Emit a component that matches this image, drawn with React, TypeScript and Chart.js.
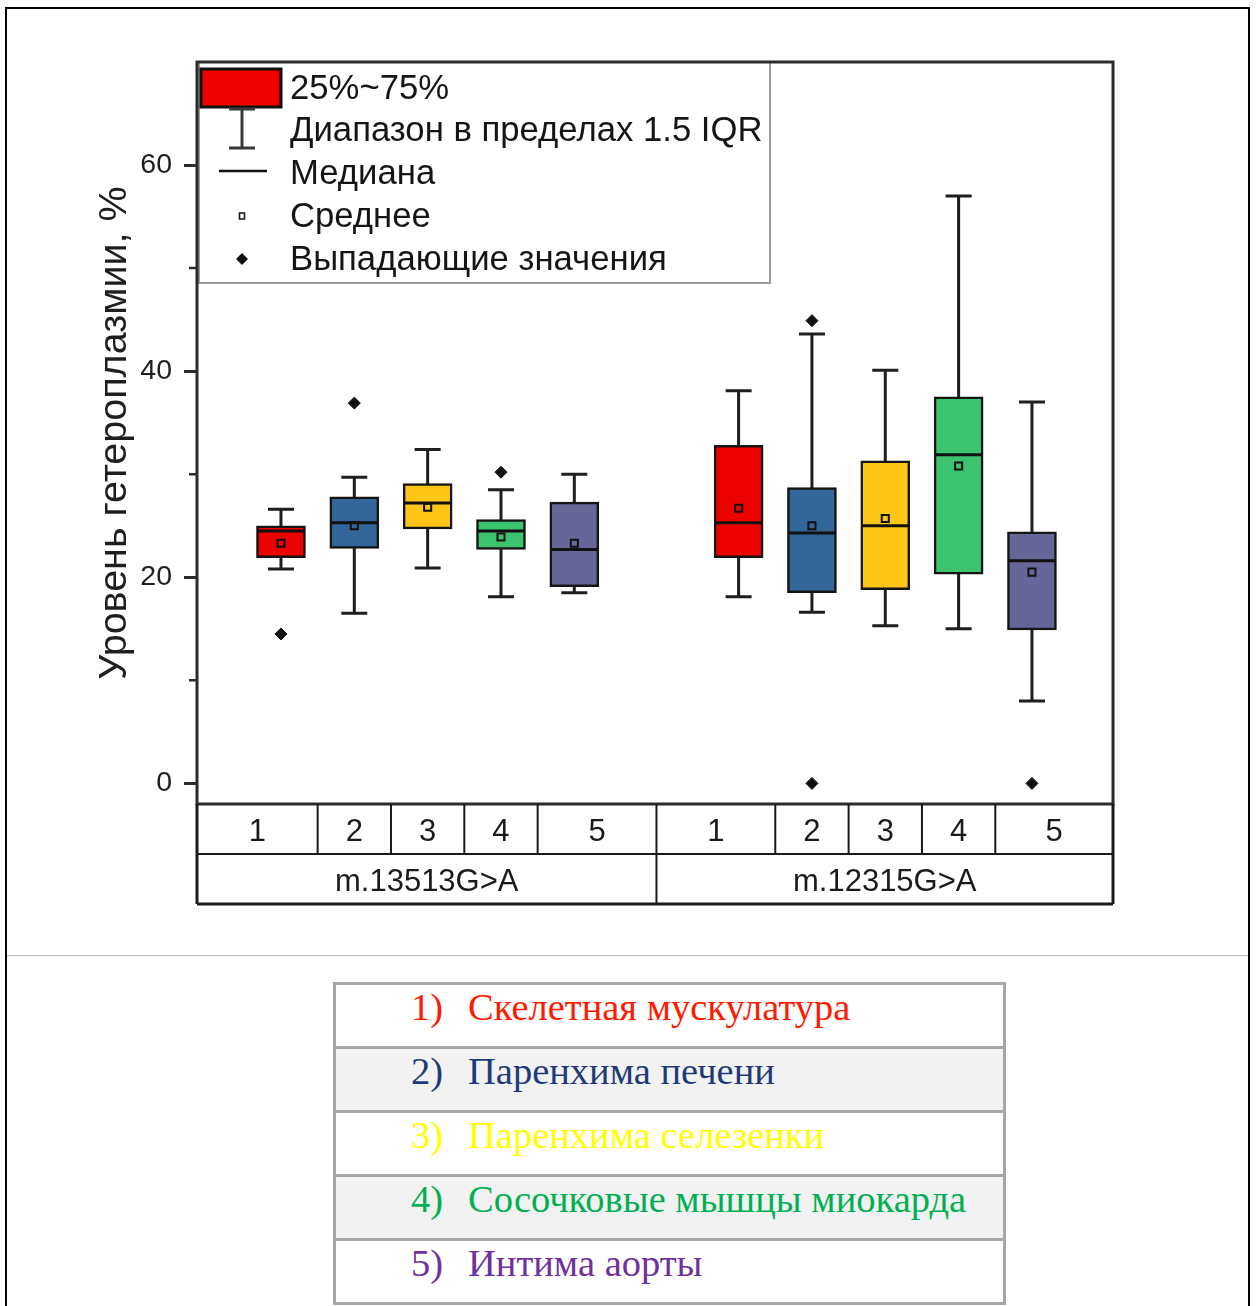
import React, { useEffect, useRef } from 'react';
import { Chart, registerables } from 'chart.js';

Chart.register(...registerables);

// ---------- data ----------
const groupLabels = ['m.13513G>A', 'm.12315G>A'];
const tissueNumbers = ['1', '2', '3', '4', '5'];
const tissueNames = [
  'Скелетная мускулатура',
  'Паренхима печени',
  'Паренхима селезенки',
  'Сосочковые мышцы миокарда',
  'Интима аорты',
];
const yTickValues = [0, 20, 40, 60];
const yMinorTickValues = [10, 30, 50];

// order of boxes: group 1 tissues 1–5, then group 2 tissues 1–5
const whiskerLow = [20.8, 16.5, 20.9, 18.1, 18.5, 18.1, 16.6, 15.3, 15.0, 8.0];
const q1 = [21.9, 22.8, 24.7, 22.7, 19.1, 21.9, 18.5, 18.8, 20.3, 14.9];
const median = [24.5, 25.3, 27.2, 24.5, 22.7, 25.3, 24.3, 25.0, 31.9, 21.6];
const q3 = [25.0, 27.8, 29.1, 25.6, 27.3, 32.8, 28.7, 31.3, 37.5, 24.4];
const whiskerHigh = [26.6, 29.7, 32.4, 28.5, 30.0, 38.1, 43.6, 40.1, 57.0, 37.0];
const mean = [23.3, 25.0, 26.8, 23.9, 23.3, 26.7, 25.0, 25.7, 30.8, 20.5];
const outliers: number[][] = [[14.5], [36.9], [], [30.2], [], [], [44.9, 0], [], [], [0]];

// ---------- styles / layout ----------
const tissueFill = ['#ec0000', '#336699', '#fdc616', '#3cc36f', '#666699'];
const tissueText = ['#ff1a00', '#1f3a78', '#ffff00', '#00b050', '#7030a0'];
const GROUP_STRIDE = 6.24;
const BOX_W = 49;
const CAP_HALF = 13;
const SANS = '"Liberation Sans", Arial, sans-serif';
const SERIF = '"Liberation Serif", "Times New Roman", serif';

const slotX = (i: number) => Math.floor(i / 5) * GROUP_STRIDE + (i % 5) + 1;

const boxPlotPlugin = {
  id: 'boxPlotParts',
  beforeDatasetsDraw(chart: any) {
    const { ctx, scales } = chart;
    const x = scales.x, y = scales.y;
    ctx.save();
    ctx.strokeStyle = '#1e1e1e';
    ctx.lineWidth = 3;
    for (let i = 0; i < q1.length; i++) {
      const px = x.getPixelForValue(slotX(i));
      const lo = y.getPixelForValue(whiskerLow[i]);
      const hi = y.getPixelForValue(whiskerHigh[i]);
      ctx.beginPath();
      ctx.moveTo(px, lo); ctx.lineTo(px, hi);
      ctx.moveTo(px - CAP_HALF, lo); ctx.lineTo(px + CAP_HALF, lo);
      ctx.moveTo(px - CAP_HALF, hi); ctx.lineTo(px + CAP_HALF, hi);
      ctx.stroke();
    }
    ctx.restore();
  },
  afterDatasetDraw(chart: any, args: any) {
    if (args.meta.type !== 'bar') return;
    const t = args.index;
    const { ctx, scales } = chart;
    const x = scales.x, y = scales.y;
    ctx.save();
    ctx.strokeStyle = '#111';
    ctx.lineWidth = 3;
    for (let g = 0; g < groupLabels.length; g++) {
      const i = g * 5 + t;
      const px = x.getPixelForValue(slotX(i));
      const py = y.getPixelForValue(median[i]);
      ctx.beginPath();
      ctx.moveTo(px - BOX_W / 2 + 1, py);
      ctx.lineTo(px + BOX_W / 2 - 1, py);
      ctx.stroke();
    }
    ctx.restore();
  },
  afterDraw(chart: any) {
    const { ctx, chartArea: ca, scales } = chart;
    const x = scales.x, y = scales.y;
    ctx.save();

    // legend
    const lx = ca.left + 2, ly = ca.top;
    ctx.fillStyle = '#fff';
    ctx.fillRect(lx, ly, 571, 221);
    ctx.strokeStyle = '#9c9c9c';
    ctx.lineWidth = 2;
    ctx.strokeRect(lx, ly, 571, 221);

    ctx.fillStyle = tissueFill[0];
    ctx.fillRect(ca.left + 4, ca.top + 7, 80, 38);
    ctx.strokeStyle = '#111';
    ctx.lineWidth = 3;
    ctx.strokeRect(ca.left + 4, ca.top + 7, 80, 38);

    const ix = ca.left + 45;
    ctx.strokeStyle = '#3a3a3a';
    ctx.lineWidth = 3;
    ctx.beginPath();
    ctx.moveTo(ix, ca.top + 47); ctx.lineTo(ix, ca.top + 86);
    ctx.moveTo(ix - 13, ca.top + 47); ctx.lineTo(ix + 13, ca.top + 47);
    ctx.moveTo(ix - 13, ca.top + 86); ctx.lineTo(ix + 13, ca.top + 86);
    ctx.stroke();

    ctx.strokeStyle = '#111';
    ctx.lineWidth = 2.5;
    ctx.beginPath();
    ctx.moveTo(ca.left + 22, ca.top + 109); ctx.lineTo(ca.left + 70, ca.top + 109);
    ctx.stroke();

    ctx.lineWidth = 1.5;
    ctx.strokeRect(ix - 2.5, ca.top + 151, 5, 6);

    ctx.fillStyle = '#111';
    ctx.beginPath();
    ctx.moveTo(ix, ca.top + 191); ctx.lineTo(ix + 6, ca.top + 197);
    ctx.lineTo(ix, ca.top + 203); ctx.lineTo(ix - 6, ca.top + 197);
    ctx.closePath(); ctx.fill();

    const legendTexts = ['25%~75%', 'Диапазон в пределах 1.5 IQR', 'Медиана', 'Среднее', 'Выпадающие значения'];
    const legendBase = [37, 79, 122, 165, 208];
    ctx.font = `34.7px ${SANS}`;
    ctx.fillStyle = '#151515';
    ctx.textAlign = 'left';
    ctx.textBaseline = 'alphabetic';
    legendTexts.forEach((s, k) => ctx.fillText(s, ca.left + 93, ca.top + legendBase[k]));

    // plot frame
    ctx.strokeStyle = '#2b2b2b';
    ctx.lineWidth = 3;
    ctx.strokeRect(ca.left, ca.top, ca.right - ca.left, ca.bottom - ca.top);

    // minor ticks
    ctx.lineWidth = 2.5;
    ctx.beginPath();
    yMinorTickValues.forEach((v) => {
      const py = y.getPixelForValue(v);
      ctx.moveTo(ca.left - 8, py); ctx.lineTo(ca.left, py);
    });
    ctx.stroke();

    // category table under the axis
    const r1 = ca.bottom + 50, r2 = ca.bottom + 100;
    ctx.strokeStyle = '#1a1a1a';
    ctx.lineWidth = 3;
    ctx.beginPath();
    ctx.moveTo(ca.left, ca.bottom); ctx.lineTo(ca.left, r2);
    ctx.moveTo(ca.right, ca.bottom); ctx.lineTo(ca.right, r2);
    ctx.moveTo(ca.left, r2); ctx.lineTo(ca.right, r2);
    ctx.stroke();
    ctx.lineWidth = 2;
    ctx.beginPath();
    ctx.moveTo(ca.left, r1); ctx.lineTo(ca.right, r1);
    const edges: number[] = [ca.left];
    for (let i = 0; i < q1.length - 1; i++) {
      const mid = (x.getPixelForValue(slotX(i)) + x.getPixelForValue(slotX(i + 1))) / 2;
      edges.push(mid);
      ctx.moveTo(mid, ca.bottom);
      ctx.lineTo(mid, i === 4 ? r2 : r1);
    }
    edges.push(ca.right);
    ctx.stroke();

    ctx.fillStyle = '#1a1a1a';
    ctx.textAlign = 'center';
    ctx.font = `31px ${SANS}`;
    for (let i = 0; i < q1.length; i++) {
      ctx.fillText(tissueNumbers[i % 5], (edges[i] + edges[i + 1]) / 2, ca.bottom + 37);
    }
    groupLabels.forEach((lab, g) => {
      const a = edges[g * 5], b = edges[g * 5 + 5];
      ctx.fillText(lab, (a + b) / 2, ca.bottom + 87);
    });
    ctx.restore();
  },
};

export default function App() {
  const ref = useRef<HTMLCanvasElement>(null);

  useEffect(() => {
    Chart.defaults.font.family = SANS;
    const boxDatasets = tissueNumbers.map((_, t) => ({
      type: 'bar' as const,
      label: tissueNames[t],
      data: groupLabels.map((__, g) => {
        const i = g * 5 + t;
        return { x: slotX(i), y: [q1[i], q3[i]] };
      }),
      backgroundColor: tissueFill[t],
      borderColor: '#151515',
      borderWidth: 2.5,
      borderSkipped: false,
      barThickness: BOX_W,
      grouped: false,
      order: 2,
    }));
    const meanData = mean.map((m, i) => ({ x: slotX(i), y: m }));
    const outlierData = outliers.flatMap((arr, i) => arr.map((v) => ({ x: slotX(i), y: v })));

    const chart = new Chart(ref.current as HTMLCanvasElement, {
      type: 'bar',
      data: {
        datasets: [
          ...boxDatasets,
          {
            type: 'scatter',
            label: 'Среднее',
            data: meanData,
            pointStyle: 'rect',
            pointRadius: 5,
            borderColor: '#111',
            borderWidth: 2,
            backgroundColor: 'rgba(0,0,0,0)',
            order: 1,
          },
          {
            type: 'scatter',
            label: 'Выпадающие значения',
            data: outlierData,
            pointStyle: 'rectRot',
            pointRadius: 6,
            borderColor: '#111',
            borderWidth: 1,
            backgroundColor: '#111',
            order: 1,
          },
        ] as any,
      },
      options: {
        animation: false,
        responsive: true,
        maintainAspectRatio: false,
        events: [],
        layout: { padding: { top: 53, right: 135, bottom: 150, left: 0 } },
        plugins: { legend: { display: false }, tooltip: { enabled: false } },
        scales: {
          x: {
            type: 'linear',
            display: false,
            min: -0.145,
            max: 12.345,
            offset: false,
          },
          y: {
            min: -2,
            max: 70,
            afterBuildTicks: (s: any) => {
              s.ticks = yTickValues.map((v) => ({ value: v }));
            },
            afterFit: (s: any) => {
              s.width = 190;
            },
            ticks: { font: { size: 28.5, family: SANS }, color: '#1e1e1e', padding: 12 },
            grid: {
              drawOnChartArea: false,
              drawTicks: true,
              tickLength: 13,
              tickWidth: 3,
              tickColor: '#2b2b2b',
            },
            border: { display: false },
            title: {
              display: true,
              text: 'Уровень гетероплазмии, %',
              font: { size: 39.5, family: SANS },
              color: '#1e1e1e',
              padding: { top: 84, bottom: 0 },
            },
          },
        },
      } as any,
      plugins: [boxPlotPlugin],
    });
    return () => chart.destroy();
  }, []);

  const rowStyle = (k: number): React.CSSProperties => ({
    height: k < 4 ? 64 : 61,
    boxSizing: 'border-box',
    borderBottom: k < 4 ? '3px solid #a6a6a6' : 'none',
    background: k % 2 === 1 ? '#f2f2f2' : '#ffffff',
    paddingLeft: 75,
    paddingTop: 0,
    fontFamily: SERIF,
    fontSize: 38.5,
    lineHeight: 'normal',
    color: tissueText[k],
    whiteSpace: 'nowrap',
  });

  return (
    <div
      style={{
        position: 'absolute',
        left: 5,
        top: 7,
        width: 1245,
        height: 1299,
        boxSizing: 'border-box',
        borderTop: '2px solid #000',
        borderLeft: '2px solid #000',
        borderRight: '2px solid #000',
        background: '#fff',
      }}
    >
      <div style={{ position: 'absolute', left: 0, top: 0, width: 1241, height: 945 }}>
        <canvas ref={ref} />
      </div>
      <div style={{ position: 'absolute', left: 0, right: 0, top: 946, height: 1, background: '#bdbdbd' }} />
      <div
        style={{
          position: 'absolute',
          left: 326,
          top: 973,
          width: 673,
          height: 323,
          boxSizing: 'border-box',
          border: '3px solid #a6a6a6',
        }}
      >
        {tissueNames.map((name, k) => (
          <div key={k} style={rowStyle(k)}>
            <span style={{ display: 'inline-block', width: 57 }}>{tissueNumbers[k]})</span>
            <span>{name}</span>
          </div>
        ))}
      </div>
    </div>
  );
}
